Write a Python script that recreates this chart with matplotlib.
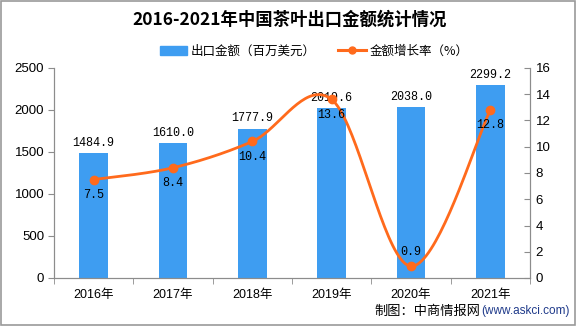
import matplotlib
matplotlib.use("Agg")
import matplotlib.pyplot as plt
import numpy as np
from matplotlib.patches import Rectangle
from matplotlib.lines import Line2D
from matplotlib.patches import Patch

plt.rcParams['font.family'] = ['Liberation Sans', 'Noto Sans CJK SC', 'DejaVu Sans']

years = ['2016年', '2017年', '2018年', '2019年', '2020年', '2021年']
export_value = [1484.9, 1610.0, 1777.9, 2019.6, 2038.0, 2299.2]
growth_rate = [7.5, 8.4, 10.4, 13.6, 0.9, 12.8]
bar_labels = ['1484.9', '1610.0', '1777.9', '2019.6', '2038.0', '2299.2']
rate_labels = ['7.5', '8.4', '10.4', '13.6', '0.9', '12.8']

BLUE = '#3E9DF1'
ORANGE = '#FF6A1C'
GRAY = '#8C8C8C'

fig = plt.figure(figsize=(5.76, 3.26), dpi=100)
ax = fig.add_axes([54/576, 48/326, (530-54)/576, (278-68)/326])
ax2 = ax.twinx()

x = np.arange(len(years))
ax.bar(x, export_value, width=0.36, color=BLUE, zorder=2)
ax.set_xlim(-0.5, len(years) - 0.5)
ax.set_ylim(0, 2500)
ax.set_yticks([0, 500, 1000, 1500, 2000, 2500])
ax.set_xticks(x)
ax.set_xticklabels(years, fontsize=9)
ax.set_xticks(np.arange(-0.5, len(years), 1.0), minor=True)
ax.tick_params(axis='x', which='major', length=0, pad=8)
ax.tick_params(axis='x', which='minor', length=4, color=GRAY)
ax.tick_params(axis='y', length=4, color=GRAY, labelsize=9.5, pad=3)

for s in ['top']:
    ax.spines[s].set_visible(False)
    ax2.spines[s].set_visible(False)
for a in (ax, ax2):
    for s in ['left', 'right', 'bottom']:
        a.spines[s].set_color(GRAY)

# Smooth curve (Excel-like Catmull-Rom Bezier) through the points
pts = np.array(list(zip(x, growth_rate)), dtype=float)
n = len(pts)
curve = []
for i in range(n - 1):
    p0 = pts[i - 1] if i > 0 else pts[i]
    p1 = pts[i]
    p2 = pts[i + 1]
    p3 = pts[i + 2] if i + 2 < n else pts[i + 1]
    c1 = p1 + (p2 - p0) / 6.0
    c2 = p2 - (p3 - p1) / 6.0
    t = np.linspace(0, 1, 40)[:, None]
    seg = ((1 - t) ** 3) * p1 + 3 * ((1 - t) ** 2) * t * c1 + 3 * (1 - t) * t ** 2 * c2 + t ** 3 * p2
    curve.append(seg)
curve = np.vstack(curve)
ax2.plot(curve[:, 0], curve[:, 1], color=ORANGE, lw=2.0, zorder=3)
ax2.plot(x, growth_rate, 'o', color=ORANGE, ms=6, zorder=4)
ax2.set_ylim(0, 16)
ax2.set_yticks(range(0, 17, 2))
ax2.tick_params(axis='y', length=4, direction='in', color=GRAY, labelsize=9.5, pad=4)

mono = ['Liberation Mono', 'DejaVu Sans Mono']
for xi, v, lab in zip(x, export_value, bar_labels):
    ax.annotate(lab, (xi, v), xytext=(0, 3), textcoords='offset points',
                ha='center', va='bottom', fontsize=8.5, family=mono, zorder=5)

offsets = [-11, -11, -11, -11, 10, -11]
for xi, v, lab, off in zip(x, growth_rate, rate_labels, offsets):
    ax2.annotate(lab, (xi, v), xytext=(0, off), textcoords='offset points',
                 ha='center', va='center', fontsize=8.5, family=mono, zorder=5)

fig.text(0.503, 1 - 20/326, '2016-2021年中国茶叶出口金额统计情况', ha='center', va='center',
         fontsize=12.5, fontweight='bold', family=['Noto Sans CJK SC'])

handles = [Patch(color=BLUE), Line2D([0], [0], color=ORANGE, lw=2.2, marker='o', ms=5)]
fig.legend(handles, ['出口金额（百万美元）', '金额增长率（%）'], loc='center',
           bbox_to_anchor=(314/576, 1 - 51/326), ncol=2, frameon=False,
           handlelength=2.2, columnspacing=1.8, handletextpad=0.3,
           prop={'family': ['Noto Sans CJK SC'], 'size': 9})

fig.text(480/576, 1 - 311/326, '制图：中商情报网', ha='right', va='center', fontsize=9.5,
         family=['Noto Sans CJK SC'])
fig.text(481/576, 1 - 311/326, '(www.askci.com)', ha='left', va='center', fontsize=8.5,
         color='#1F3A8A', family=['Liberation Sans'])

fig.patches.append(Rectangle((0.001, 0.002), 0.997, 0.995, transform=fig.transFigure,
                             fill=False, edgecolor='#9A9A9A', lw=1.2))

fig.savefig('out.png', dpi=100)
